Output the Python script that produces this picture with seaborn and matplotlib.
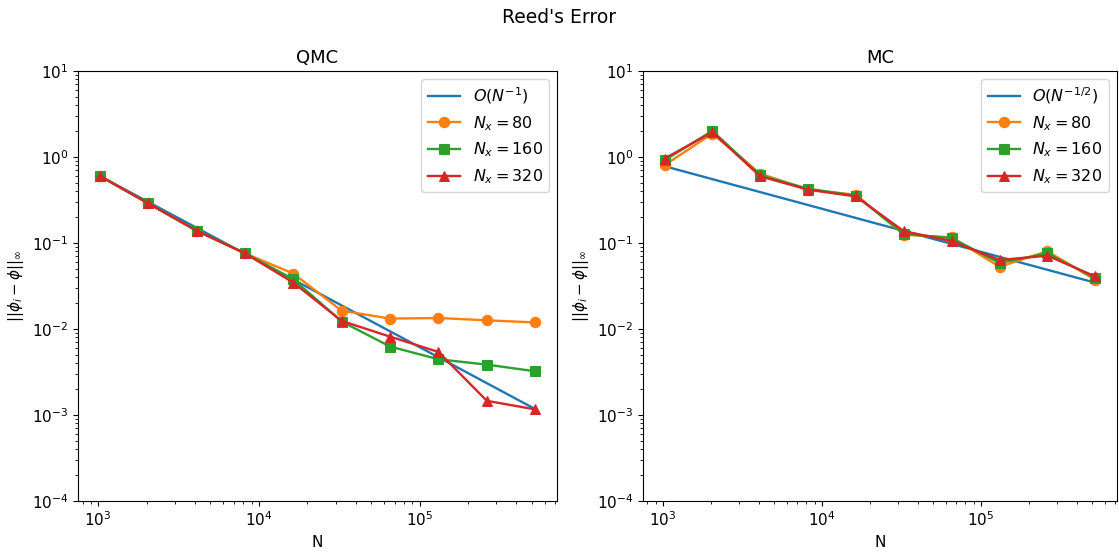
import numpy as np
import pandas as pd
import matplotlib
matplotlib.use("Agg")
import matplotlib.pyplot as plt
import seaborn as sns

# sample counts N = 2^10 ... 2^19
N = [1024, 2048, 4096, 8192, 16384, 32768, 65536, 131072, 262144, 524288]

# QMC errors
qmc_ref = [0.60, 0.30, 0.15, 0.075, 0.0375, 0.01875, 0.00938, 0.00469, 0.00234, 0.00117]
qmc_80 = [0.601, 0.289, 0.139, 0.0758, 0.0440, 0.0163, 0.0132, 0.0134, 0.0126, 0.0119]
qmc_160 = [0.601, 0.289, 0.139, 0.0758, 0.0378, 0.0122, 0.00624, 0.00444, 0.00385, 0.00322]
qmc_320 = [0.601, 0.289, 0.139, 0.0758, 0.0346, 0.0124, 0.00814, 0.00540, 0.00146, 0.00116]

# MC errors
mc_ref = [0.78, 0.5515, 0.39, 0.2758, 0.195, 0.1379, 0.0975, 0.0689, 0.04875, 0.0345]
mc_80 = [0.80, 1.87, 0.639, 0.416, 0.363, 0.125, 0.116, 0.0529, 0.080, 0.0373]
mc_160 = [0.914, 2.01, 0.611, 0.427, 0.354, 0.127, 0.114, 0.0585, 0.0757, 0.039]
mc_320 = [0.956, 1.94, 0.595, 0.416, 0.347, 0.137, 0.105, 0.0633, 0.0711, 0.0408]

fig = plt.figure(figsize=(11.19, 5.54), dpi=100)
ax1 = fig.add_axes([0.0697, 0.0957, 0.4281, 0.7763])
ax2 = fig.add_axes([0.5746, 0.0957, 0.4234, 0.7763])

panels = [
    (ax1, "QMC", r"$O(N^{-1})$", qmc_ref, qmc_80, qmc_160, qmc_320),
    (ax2, "MC", r"$O(N^{-1/2})$", mc_ref, mc_80, mc_160, mc_320),
]

for ax, title, ref_label, ref, e80, e160, e320 in panels:
    sns.lineplot(x=N, y=ref, ax=ax, color="C0", linewidth=1.7, label=ref_label)
    for err, mk, col, lab in [(e80, "o", "C1", r"$N_x = 80$"),
                              (e160, "s", "C2", r"$N_x = 160$"),
                              (e320, "^", "C3", r"$N_x = 320$")]:
        sns.lineplot(x=N, y=err, ax=ax, color=col, marker=mk, markersize=7.5,
                     linewidth=1.7, markeredgecolor=col, label=lab)
    ax.set_xscale("log")
    ax.set_yscale("log")
    ax.set_ylim(1e-4, 1e1)
    ax.set_title(title, fontsize=13)
    ax.set_xlabel("N", fontsize=11)
    ax.set_ylabel(r"$||\phi_i - \phi||_\infty$", fontsize=11)
    ax.tick_params(labelsize=11)
    ax.legend(loc="upper right", fontsize=11.5)

fig.suptitle("Reed's Error", fontsize=13.5, y=0.985)
fig.savefig("out.png", dpi=100)
